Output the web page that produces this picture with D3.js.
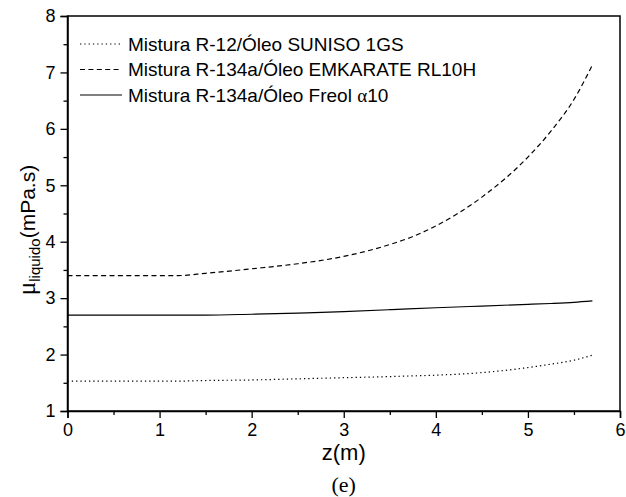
<!DOCTYPE html>
<html>
<head>
<meta charset="utf-8">
<script src="https://cdn.jsdelivr.net/npm/d3@7/dist/d3.min.js"></script>
<style>
  body { margin: 0; background: #fff; }
  svg { display: block; }
  text { font-family: "Liberation Sans", Arial, sans-serif; fill: #000; }
</style>
</head>
<body>
<svg id="chart" width="626" height="497"></svg>
<script>
// values
const z = [0, 0.5, 1, 1.2, 1.5, 2, 2.5, 3, 3.5, 3.7, 4, 4.5, 5, 5.25, 5.5, 5.7]
const suniso   = [1.53, 1.53, 1.53, 1.53, 1.54, 1.55, 1.57, 1.59, 1.61, 1.62, 1.635, 1.68, 1.77, 1.83, 1.90, 1.99]
const emkarate = [3.40, 3.40, 3.40, 3.40, 3.44, 3.52, 3.61, 3.74, 3.95, 4.06, 4.28, 4.79, 5.50, 5.96, 6.52, 7.13]
const freol    = [2.70, 2.70, 2.70, 2.70, 2.70, 2.715, 2.735, 2.76, 2.795, 2.81, 2.83, 2.86, 2.89, 2.905, 2.925, 2.95]

const x_ticks = [0, 1, 2, 3, 4, 5, 6]
const y_ticks = [1, 2, 3, 4, 5, 6, 7, 8]

const series = [
  { name: "Mistura R-12/Óleo SUNISO 1GS", values: suniso, dash: "1.3,3" },
  { name: "Mistura R-134a/Óleo EMKARATE RL10H", values: emkarate, dash: "5,3.4" },
  { name: "Mistura R-134a/Óleo Freol ", greek: "α", tail: "10", values: freol, dash: null },
]

const marginLeft = 67.5
const marginRight = 6
const marginTop = 16
const marginBottom = 86
const width = 626
const height = 497

const svg = d3.select("#chart")

const x = d3.scaleLinear().domain([0, 6]).range([marginLeft, width - marginRight])
const y = d3.scaleLinear().domain([1, 8]).range([height - marginBottom, marginTop])

// frame (top and right without ticks)
svg.append("rect")
  .attr("x", x(0)).attr("y", y(8))
  .attr("width", x(6) - x(0)).attr("height", y(1) - y(8))
  .attr("fill", "none").attr("stroke", "#000").attr("stroke-width", 1.5)

// bottom axis
const xAxis = svg.append("g")
  .attr("transform", `translate(0,${y(1)})`)
  .call(d3.axisBottom(x).tickValues(x_ticks).tickSize(7).tickPadding(5).tickFormat(d3.format("d")))
xAxis.append("g")
  .call(d3.axisBottom(x).tickValues(x_ticks.slice(0, -1).map(d => d + 0.5)).tickSize(4).tickFormat(""))
  .select(".domain").remove()

// left axis
const yAxis = svg.append("g")
  .attr("transform", `translate(${x(0)},0)`)
  .call(d3.axisLeft(y).tickValues(y_ticks).tickSize(7).tickPadding(5).tickFormat(d3.format("d")))
yAxis.append("g")
  .call(d3.axisLeft(y).tickValues(y_ticks.slice(0, -1).map(d => d + 0.5)).tickSize(4).tickFormat(""))
  .select(".domain").remove()

svg.selectAll(".domain").attr("stroke-width", 1.5)
svg.selectAll(".tick line").attr("stroke-width", 1.3)
svg.selectAll(".tick text")
  .style("font-family", "'Liberation Sans', Arial, sans-serif")
  .style("font-size", "18px")

// curves
const line = d3.line()
  .x((d, i) => x(z[i]))
  .y(d => y(d))
  .curve(d3.curveMonotoneX)

series.forEach(s => {
  svg.append("path")
    .attr("d", line(s.values))
    .attr("fill", "none")
    .attr("stroke", "#000")
    .attr("stroke-width", 1.2)
    .attr("stroke-dasharray", s.dash)
})

// legend
const legend = svg.append("g")
series.forEach((s, i) => {
  const ly = 44 + i * 25.5
  legend.append("line")
    .attr("x1", 80).attr("x2", 122)
    .attr("y1", ly).attr("y2", ly)
    .attr("stroke", "#000").attr("stroke-width", 1.2)
    .attr("stroke-dasharray", s.dash)
  const t = legend.append("text")
    .attr("x", 128).attr("y", ly + 6.5)
    .style("font-size", "19px")
    .text(s.name)
  if (s.greek) {
    t.append("tspan").style("font-family", "'Liberation Serif', 'Times New Roman', serif").text(s.greek)
    t.append("tspan").text(s.tail)
  }
})

// y axis title
const yt = svg.append("text")
  .attr("transform", `translate(35,230) rotate(-90)`)
  .attr("text-anchor", "middle")
yt.append("tspan").style("font-family", "'Liberation Serif', 'Times New Roman', serif").style("font-size", "25px").text("μ")
yt.append("tspan").style("font-size", "15px").attr("dy", 5).text("liquido")
yt.append("tspan").style("font-size", "21px").attr("dy", -5).text("(mPa.s)")

// x axis title
svg.append("text")
  .attr("x", (x(0) + x(6)) / 2).attr("y", 460)
  .attr("text-anchor", "middle")
  .style("font-size", "22px")
  .text("z(m)")

svg.append("text")
  .attr("x", (x(0) + x(6)) / 2).attr("y", 492)
  .attr("text-anchor", "middle")
  .style("font-family", "'Liberation Serif', 'Times New Roman', serif")
  .style("font-size", "22px")
  .text("(e)")
</script>
</body>
</html>
